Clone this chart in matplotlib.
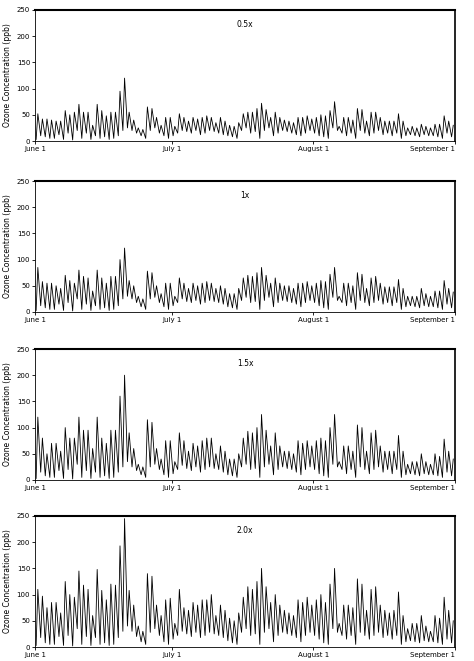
import matplotlib
matplotlib.use("Agg")
import matplotlib.pyplot as plt
import numpy as np

panel_labels = ["0.5x", "1x", "1.5x", "2.0x"]
date_ticks = [0, 30, 61, 92]
date_labels = ["June 1", "July 1", "August 1", "September 1"]
y_ticks = [0, 50, 100, 150, 200, 250]

peak_05 = [52,42,42,40,38,38,58,50,55,70, 55,55,30,70,58,48,55,55,95,120,
           55,40,25,22,65,62,45,30,45,45, 28,52,45,38,45,42,45,48,45,35,
           45,38,30,28,35,52,55,55,62,72, 60,45,55,45,40,38,35,45,45,48,
           42,45,50,48,58,75,28,45,45,40, 62,60,38,55,55,45,38,38,38,52,
           38,25,28,25,32,28,25,32,32,48,38,30]
peak_10 = [85,58,55,55,50,45,70,60,55,80, 68,65,40,80,65,55,68,68,100,122,
           60,50,30,25,78,75,50,35,55,55, 30,65,55,45,55,50,55,58,55,45,
           50,45,35,35,45,65,70,68,75,85, 70,55,65,55,50,50,45,55,55,58,
           50,55,60,58,72,85,30,55,55,50, 75,72,45,65,68,55,48,48,48,62,
           45,30,30,30,45,35,30,40,40,60,45,38]
peak_15 = [120,80,50,70,70,55,100,80,80,120, 95,95,60,120,80,70,95,95,160,200,
           90,60,30,25,115,110,60,40,75,75, 35,90,75,55,70,65,75,80,80,50,
           65,55,40,40,50,80,93,90,100,125, 95,65,90,65,55,55,50,75,70,75,
           65,75,80,75,100,125,35,65,65,55, 105,100,55,90,95,65,55,55,55,85,
           55,30,35,35,50,35,30,50,45,78,55,40]
peak_20 = [110,97,75,85,85,65,125,100,95,145, 118,110,60,148,108,90,120,118,193,245,
           108,80,40,30,140,135,80,60,90,93, 45,110,75,70,85,80,90,90,100,60,
           80,70,55,50,65,95,115,110,125,150, 115,85,100,80,70,65,60,90,85,95,
           80,90,100,85,120,150,45,80,80,75, 130,120,70,110,115,80,70,65,70,105,
           60,35,45,45,60,40,30,60,55,95,70,50]
min_05 = [3,10,8,5,5,12,3,15,2,20, 5,15,3,10,5,8,3,5,10,20,
          25,20,15,10,5,20,25,15,10,5, 10,15,20,18,15,20,12,15,20,18,
          15,12,10,8,5,20,25,15,18,5, 20,25,10,15,20,18,15,12,10,15,
          20,15,10,8,5,25,20,15,10,15, 5,20,15,10,15,20,12,15,10,15,
          5,10,12,10,8,12,10,10,8,5,15,8]
min_10 = [3,12,8,5,5,15,3,18,2,25, 5,15,3,12,5,8,3,5,12,25,
          30,25,18,10,5,25,28,18,10,5, 12,18,25,20,18,22,15,18,22,20,
          18,15,10,8,5,22,28,18,20,5, 22,28,10,18,22,20,18,15,10,18,
          22,18,12,8,5,28,22,18,12,18, 5,22,18,12,18,22,15,18,12,18,
          5,10,12,10,8,12,10,10,8,5,15,8]
min_15 = [3,15,8,5,5,18,3,20,2,30, 5,18,3,15,5,8,3,5,15,25,
          35,25,18,10,5,25,30,20,10,5, 12,20,28,22,18,25,15,20,25,22,
          20,15,10,8,5,25,30,20,22,5, 25,30,10,20,25,22,20,15,10,20,
          25,20,12,8,5,30,25,20,12,20, 5,25,20,12,20,25,15,20,12,20,
          5,10,12,10,8,12,10,10,8,5,15,8]
min_20 = [3,18,8,5,5,20,3,22,2,35, 5,20,3,18,5,8,3,5,18,30,
          40,30,20,10,5,28,35,22,10,5, 15,22,30,25,20,28,18,22,28,25,
          22,18,12,8,5,28,35,22,25,5, 28,35,10,22,28,25,22,18,10,22,
          28,22,15,8,5,35,28,22,15,22, 5,28,22,15,22,28,18,22,15,22,
          5,10,12,10,8,12,10,10,8,5,15,8]

panels = [(peak_05, min_05), (peak_10, min_10), (peak_15, min_15), (peak_20, min_20)]
tops = [10, 181, 349, 516]
H = 661; W = 474
fig = plt.figure(figsize=(W/100, H/100), dpi=100)
for (pk, mn), top, lab in zip(panels, tops, panel_labels):
    ax = fig.add_axes([35/W, 1 - (top + 131)/H, 420/W, 131/H])
    xs, ys = [], []
    for d, (p, m) in enumerate(zip(pk, mn)):
        xs += [d + 0.25, d + 0.62]
        ys += [m, p]
    ax.plot(xs, ys, color="black", lw=0.6)
    ax.set_xlim(0, 92)
    ax.set_ylim(0, 250)
    ax.set_yticks(y_ticks)
    ax.set_xticks(date_ticks)
    ax.set_xticklabels(date_labels)
    ax.tick_params(labelsize=5, length=2, width=0.6, pad=1.5)
    ax.get_xticklabels()[-1].set_horizontalalignment("right")
    for s in ax.spines.values():
        s.set_linewidth(0.6)
    ax.spines["top"].set_linewidth(1.5)
    ax.spines["right"].set_linewidth(1.2)
    ax.text(0.5, 0.87, lab, transform=ax.transAxes, fontsize=5.5, ha="center")
    ax.set_ylabel("Ozone Concentration (ppb)", fontsize=5.5, labelpad=3)
fig.savefig("out.png", dpi=100, facecolor="white")
